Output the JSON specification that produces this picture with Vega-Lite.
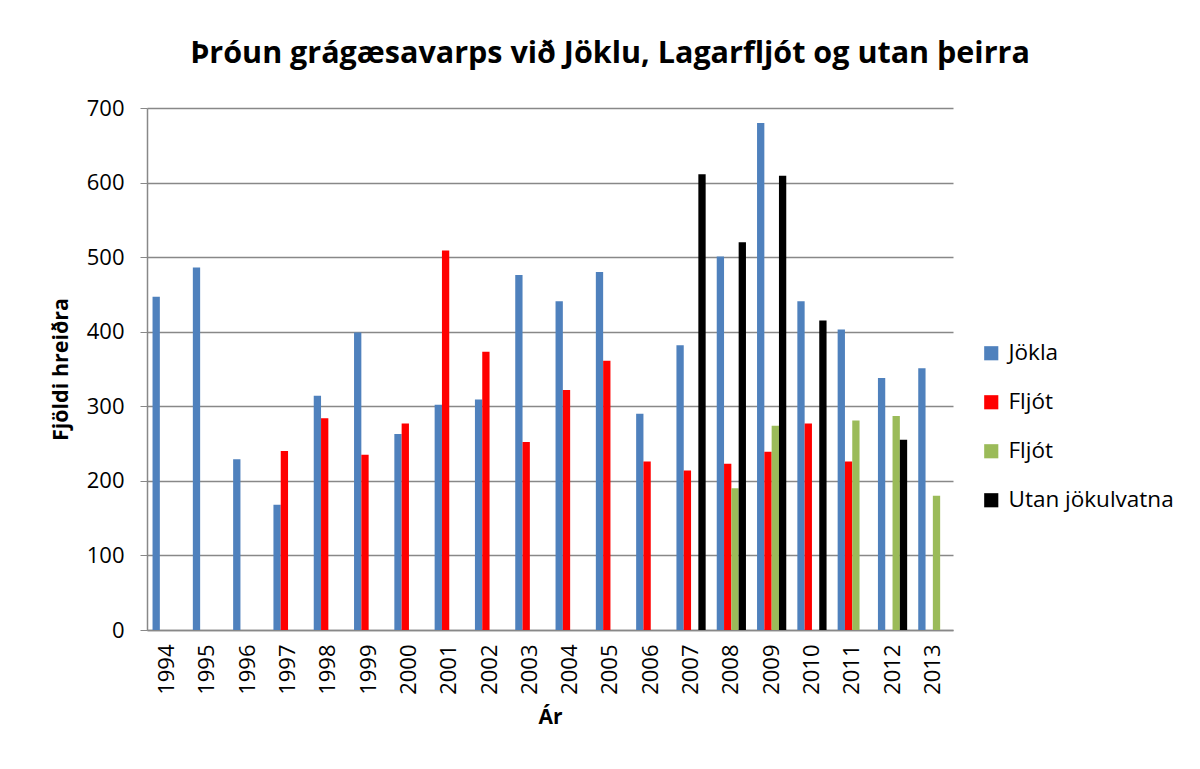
{
  "$schema": "https://vega.github.io/schema/vega-lite/v6.json",
  "width": 806,
  "height": 522,
  "autosize": "none",
  "padding": {"left": 147, "top": 108, "right": 247, "bottom": 139},
  "background": "white",
  "title": {
    "text": "Þróun grágæsavarps við Jöklu, Lagarfljót og utan þeirra",
    "font": "Open Sans",
    "fontSize": 30.5,
    "fontWeight": "bold",
    "color": "#000000",
    "anchor": "middle",
    "dx": 60,
    "offset": 28
  },
  "data": {
    "values": [
      {"ar": "1994", "rod": "Jökla", "fjoldi": 447},
      {"ar": "1995", "rod": "Jökla", "fjoldi": 486},
      {"ar": "1996", "rod": "Jökla", "fjoldi": 229},
      {"ar": "1997", "rod": "Jökla", "fjoldi": 168},
      {"ar": "1997", "rod": "Fljót", "fjoldi": 240},
      {"ar": "1998", "rod": "Jökla", "fjoldi": 314},
      {"ar": "1998", "rod": "Fljót", "fjoldi": 284},
      {"ar": "1999", "rod": "Jökla", "fjoldi": 399},
      {"ar": "1999", "rod": "Fljót", "fjoldi": 235},
      {"ar": "2000", "rod": "Jökla", "fjoldi": 263},
      {"ar": "2000", "rod": "Fljót", "fjoldi": 277},
      {"ar": "2001", "rod": "Jökla", "fjoldi": 302},
      {"ar": "2001", "rod": "Fljót", "fjoldi": 509},
      {"ar": "2002", "rod": "Jökla", "fjoldi": 309},
      {"ar": "2002", "rod": "Fljót", "fjoldi": 373},
      {"ar": "2003", "rod": "Jökla", "fjoldi": 476},
      {"ar": "2003", "rod": "Fljót", "fjoldi": 252},
      {"ar": "2004", "rod": "Jökla", "fjoldi": 441},
      {"ar": "2004", "rod": "Fljót", "fjoldi": 322},
      {"ar": "2005", "rod": "Jökla", "fjoldi": 480},
      {"ar": "2005", "rod": "Fljót", "fjoldi": 361},
      {"ar": "2006", "rod": "Jökla", "fjoldi": 290},
      {"ar": "2006", "rod": "Fljót", "fjoldi": 226},
      {"ar": "2007", "rod": "Jökla", "fjoldi": 382},
      {"ar": "2007", "rod": "Fljót", "fjoldi": 214},
      {"ar": "2007", "rod": "Utan jökulvatna", "fjoldi": 611},
      {"ar": "2008", "rod": "Jökla", "fjoldi": 501},
      {"ar": "2008", "rod": "Fljót", "fjoldi": 223},
      {"ar": "2008", "rod": "Fljót2", "fjoldi": 190},
      {"ar": "2008", "rod": "Utan jökulvatna", "fjoldi": 520},
      {"ar": "2009", "rod": "Jökla", "fjoldi": 680},
      {"ar": "2009", "rod": "Fljót", "fjoldi": 239},
      {"ar": "2009", "rod": "Fljót2", "fjoldi": 274},
      {"ar": "2009", "rod": "Utan jökulvatna", "fjoldi": 609},
      {"ar": "2010", "rod": "Jökla", "fjoldi": 441},
      {"ar": "2010", "rod": "Fljót", "fjoldi": 277},
      {"ar": "2010", "rod": "Utan jökulvatna", "fjoldi": 415},
      {"ar": "2011", "rod": "Jökla", "fjoldi": 403},
      {"ar": "2011", "rod": "Fljót", "fjoldi": 226},
      {"ar": "2011", "rod": "Fljót2", "fjoldi": 281},
      {"ar": "2012", "rod": "Jökla", "fjoldi": 338},
      {"ar": "2012", "rod": "Fljót2", "fjoldi": 287},
      {"ar": "2012", "rod": "Utan jökulvatna", "fjoldi": 255},
      {"ar": "2013", "rod": "Jökla", "fjoldi": 351},
      {"ar": "2013", "rod": "Fljót2", "fjoldi": 180}
    ]
  },
  "mark": {"type": "bar", "stroke": null},
  "encoding": {
    "x": {
      "field": "ar",
      "type": "nominal",
      "sort": null,
      "scale": {"paddingInner": 0.275, "paddingOuter": 0.1375},
      "axis": {
        "title": "Ár",
        "titleFont": "Open Sans",
        "titleFontSize": 21,
        "titleFontWeight": "bold",
        "titleColor": "#000000",
        "titlePadding": 12,
        "labelAngle": -90,
        "labelFont": "Open Sans",
        "labelFontSize": 22,
        "labelColor": "#000000",
        "labelPadding": 14,
        "ticks": false,
        "domainColor": "#888888",
        "domainWidth": 1.5
      }
    },
    "xOffset": {
      "field": "rod",
      "type": "nominal",
      "scale": {"domain": ["Jökla", "Fljót", "Fljót2", "Utan jökulvatna"], "paddingInner": 0, "paddingOuter": 0}
    },
    "y": {
      "field": "fjoldi",
      "type": "quantitative",
      "scale": {"domain": [0, 700], "nice": false},
      "axis": {
        "title": "Fjöldi hreiðra",
        "titleFont": "Open Sans",
        "titleFontSize": 21.5,
        "titleFontWeight": "bold",
        "titleColor": "#000000",
        "titlePadding": 14,
        "values": [0, 100, 200, 300, 400, 500, 600, 700],
        "labelFont": "Open Sans",
        "labelFontSize": 22,
        "labelColor": "#000000",
        "labelPadding": 16,
        "tickColor": "#888888",
        "tickSize": 7,
        "domainColor": "#888888",
        "domainWidth": 1.5,
        "gridColor": "#888888",
        "gridWidth": 1.5
      }
    },
    "color": {
      "field": "rod",
      "type": "nominal",
      "scale": {
        "domain": ["Jökla", "Fljót", "Fljót2", "Utan jökulvatna"],
        "range": ["#4F81BD", "#FF0000", "#9BBB59", "#000000"]
      },
      "legend": {
        "title": null,
        "orient": "none",
        "legendX": 833,
        "legendY": 234,
        "symbolType": "square",
        "symbolSize": 200,
        "symbolStrokeWidth": 0,
        "labelFont": "Open Sans",
        "labelFontSize": 22.5,
        "labelColor": "#000000",
        "labelOffset": 6,
        "labelLimit": 400,
        "rowPadding": 26,
        "labelExpr": "datum.label == 'Fljót2' ? 'Fljót' : datum.label"
      }
    }
  },
  "config": {
    "view": {"stroke": null}
  }
}
